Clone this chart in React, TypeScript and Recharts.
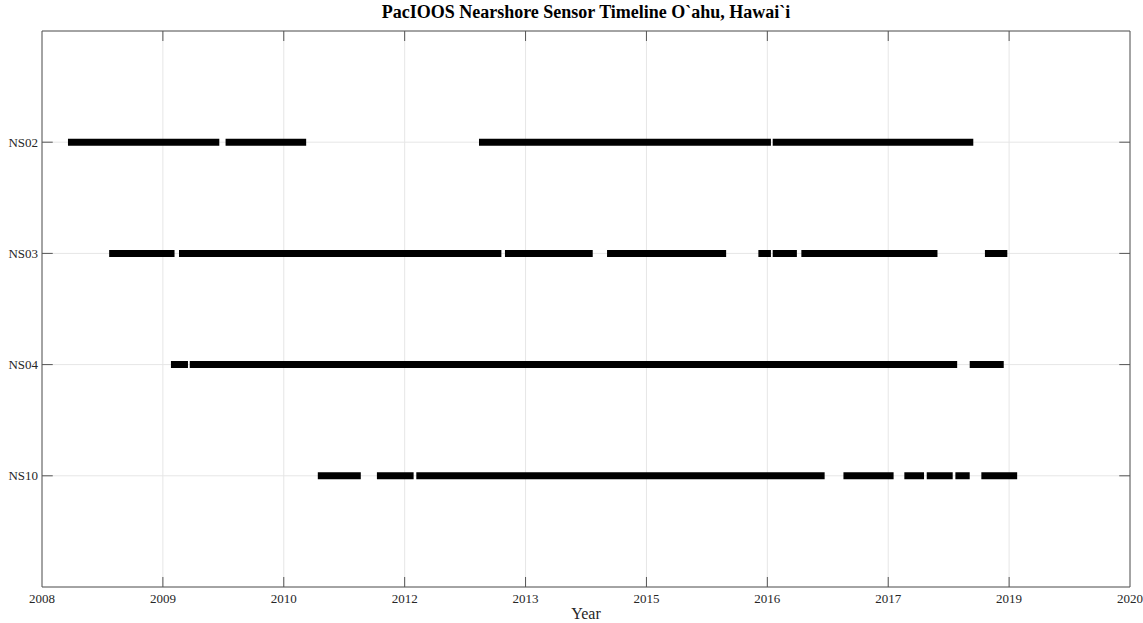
import {
  ComposedChart,
  Line,
  XAxis,
  YAxis,
  CartesianGrid,
  ReferenceArea,
  ReferenceLine,
} from 'recharts'

const stations = ['NS02', 'NS03', 'NS04', 'NS10']

// deployment periods (decimal years), start / end
const ns02 = [[2008.56, 2010.25], [2010.32, 2011.22], [2013.15, 2016.41], [2016.43, 2018.67]]
const ns03 = [
  [2009.02, 2009.75], [2009.8, 2013.4], [2013.44, 2014.42], [2014.58, 2015.91],
  [2016.27, 2016.41], [2016.43, 2016.7], [2016.75, 2018.27], [2018.8, 2019.05],
]
const ns04 = [[2009.71, 2009.9], [2009.92, 2018.49], [2018.63, 2019.01]]
const ns10 = [
  [2011.35, 2011.83], [2012.01, 2012.42], [2012.45, 2017.01], [2017.22, 2017.78],
  [2017.9, 2018.12], [2018.15, 2018.44], [2018.47, 2018.63], [2018.76, 2019.16],
]

const xTicks = [2008.27, 2009.62, 2010.97, 2012.32, 2013.67, 2015.02, 2016.37, 2017.72, 2019.07, 2020.42]
const xLabels = ['2008', '2009', '2010', '2012', '2013', '2015', '2016', '2017', '2019', '2020']
const yTicks = [1, 2, 3, 4]

const X_MIN = xTicks[0]
const X_MAX = xTicks[xTicks.length - 1]
const Y_MIN = 0
const Y_MAX = 5

// one line per station, nulls break it into separate deployments
function toRow(segments: number[][], row: number) {
  const pts: { x: number; y: number | null }[] = []
  segments.forEach(([s, e], i) => {
    pts.push({ x: s, y: row }, { x: e, y: row })
    if (i < segments.length - 1) pts.push({ x: (e + segments[i + 1][0]) / 2, y: null })
  })
  return pts
}

const rows = [ns02, ns03, ns04, ns10].map((segs, i) => toRow(segs, yTicks[i]))

const tickStyle = { fontSize: 13, fill: '#262626', fontFamily: 'Liberation Serif' }
const edge = '#555'

export default function App() {
  return (
    <div style={{ position: 'relative', width: 1143, height: 623, background: '#fff', fontFamily: 'Liberation Serif' }}>
      <style>{'body{margin:0}'}</style>
      <div
        style={{
          position: 'absolute',
          top: 2,
          left: 42,
          width: 1088,
          textAlign: 'center',
          fontWeight: 'bold',
          fontSize: 18,
          color: '#000',
          zIndex: 1,
        }}
      >
        PacIOOS Nearshore Sensor Timeline O`ahu, Hawai`i
      </div>
      <ComposedChart width={1143} height={623} margin={{ top: 31, right: 13, bottom: 0, left: 0 }}>
        <CartesianGrid stroke="#e6e6e6" />
        <XAxis
          type="number"
          dataKey="x"
          domain={[X_MIN, X_MAX]}
          ticks={xTicks}
          tickFormatter={(v) => xLabels[xTicks.indexOf(v)] ?? ''}
          tick={tickStyle}
          tickLine={false}
          axisLine={false}
          tickSize={0}
          tickMargin={7}
          height={36}
          allowDataOverflow
          label={{ value: 'Year', position: 'insideBottom', offset: 4, fontSize: 16, fill: '#262626' }}
        />
        <YAxis
          type="number"
          domain={[Y_MIN, Y_MAX]}
          reversed
          ticks={yTicks}
          tickFormatter={(v) => stations[yTicks.indexOf(v)] ?? ''}
          tick={tickStyle}
          tickLine={false}
          axisLine={false}
          tickSize={0}
          tickMargin={4}
          width={42}
          allowDataOverflow
        />
        <ReferenceArea x1={X_MIN} x2={X_MAX} y1={Y_MIN} y2={Y_MAX} fill="none" stroke={edge} strokeWidth={1} fillOpacity={0} />
        {xTicks.slice(1, -1).map((t) => (
          <ReferenceLine key={'b' + t} segment={[{ x: t, y: Y_MAX }, { x: t, y: Y_MAX - 0.09 }]} stroke={edge} />
        ))}
        {xTicks.slice(1, -1).map((t) => (
          <ReferenceLine key={'t' + t} segment={[{ x: t, y: Y_MIN }, { x: t, y: Y_MIN + 0.09 }]} stroke={edge} />
        ))}
        {yTicks.map((t) => (
          <ReferenceLine key={'l' + t} segment={[{ x: X_MIN, y: t }, { x: X_MIN + 0.12, y: t }]} stroke={edge} />
        ))}
        {yTicks.map((t) => (
          <ReferenceLine key={'r' + t} segment={[{ x: X_MAX - 0.12, y: t }, { x: X_MAX, y: t }]} stroke={edge} />
        ))}
        {rows.map((data, i) => (
          <Line
            key={stations[i]}
            data={data}
            dataKey="y"
            stroke="#000"
            strokeWidth={7}
            dot={false}
            activeDot={false}
            connectNulls={false}
            isAnimationActive={false}
          />
        ))}
      </ComposedChart>
    </div>
  )
}
